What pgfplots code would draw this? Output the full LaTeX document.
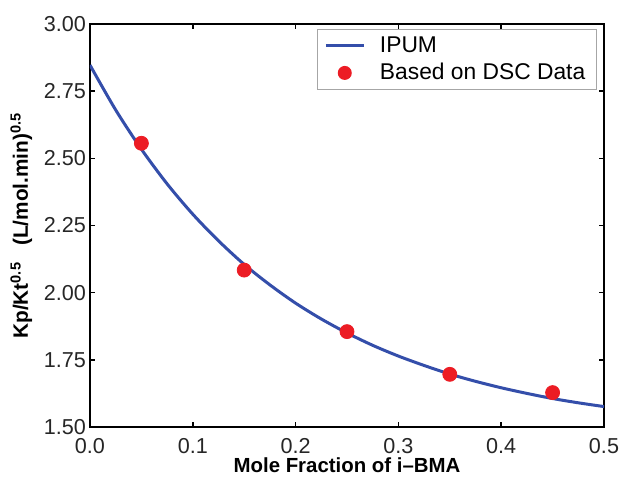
\documentclass[border=0pt]{standalone}
\usepackage{pgfplots}
\pgfplotsset{compat=1.18}
\usepackage{fontspec}
\setmainfont{Liberation Sans}

\definecolor{ipumblue}{RGB}{52,78,170}
\definecolor{dscred}{RGB}{236,28,36}

\begin{document}
\begin{tikzpicture}
\begin{axis}[
  scale only axis,
  width=257pt, height=201.5pt,
  xmin=0, xmax=0.5, ymin=1.5, ymax=3.0,
  xtick={0,0.1,0.2,0.3,0.4,0.5},
  ytick={1.5,1.75,2.0,2.25,2.5,2.75,3.0},
  x tick label style={/pgf/number format/fixed, /pgf/number format/fixed zerofill, /pgf/number format/precision=1, yshift=-2pt},
  y tick label style={/pgf/number format/fixed, /pgf/number format/fixed zerofill, /pgf/number format/precision=2, xshift=1.5pt},
  /pgf/number format/assume math mode=true,
  tick label style={font=\fontsize{10.8}{12}\selectfont, text=black!85},
  tick align=inside,
  major tick length=2.5pt,
  tick style={black, line width=0.8pt},
  axis line style={black, line width=0.9pt},
  xlabel={\bfseries Mole Fraction of i--BMA},
  ylabel={\bfseries Kp/Kt\textsuperscript{0.5}\enspace\ (L/mol.min)\textsuperscript{0.5}},
  xlabel style={font=\fontsize{10.2}{12}\selectfont, yshift=4.5pt},
  ylabel style={font=\fontsize{10.4}{12}\selectfont, yshift=-1pt},
  legend style={at={(0.986,0.9876)}, anchor=north east,
    draw=black!35, line width=0.5pt,
    font=\fontsize{11.4}{13}\selectfont,
    inner xsep=3.5pt, inner ysep=1.5pt, row sep=0pt,
    cells={anchor=west}},
  legend cell align=left,
]
% IPUM model curve
\addplot[ipumblue, line width=1.5pt, smooth,
  legend image code/.code={\draw[ipumblue, line width=1.5pt] (0pt,0pt) -- (19pt,0pt);
    \path[draw=none] (25pt,0pt) circle (0.1pt);}]
  coordinates {
  (0.000,2.847) (0.025,2.680) (0.050,2.534) (0.075,2.405) (0.100,2.292)
  (0.125,2.193) (0.150,2.105) (0.175,2.029) (0.200,1.961) (0.225,1.902)
  (0.250,1.850) (0.275,1.804) (0.300,1.764) (0.325,1.729) (0.350,1.697)
  (0.375,1.670) (0.400,1.646) (0.425,1.625) (0.450,1.606) (0.475,1.590)
  (0.500,1.576)
};
\addlegendentry{IPUM}
% values derived from DSC measurements
\addplot[only marks, mark=*, mark size=3.5pt, color=dscred, mark options={draw=none, fill=dscred},
  legend image code/.code={\path[draw=none] (0pt,0pt) circle (0.1pt) (25pt,0pt) circle (0.1pt);
    \fill[dscred, draw=none] (9.5pt,0pt) circle (3.5pt);}]
  coordinates {
  (0.05,2.556) (0.15,2.084) (0.25,1.855) (0.35,1.696) (0.45,1.628)
};
\addlegendentry{Based on DSC Data}
\end{axis}
\pgfresetboundingbox
\path[use as bounding box]
  ([xshift=-45pt, yshift=-29pt]current axis.south west)
  rectangle ([xshift=8pt, yshift=12pt]current axis.north east);
\end{tikzpicture}
\end{document}
